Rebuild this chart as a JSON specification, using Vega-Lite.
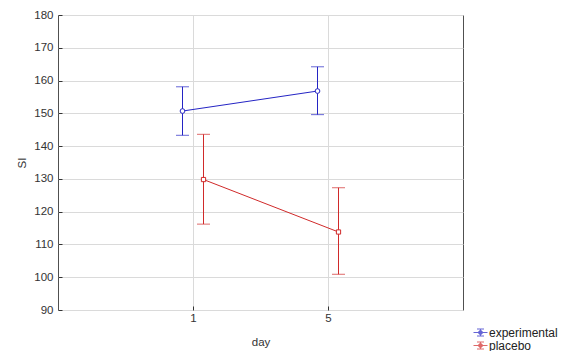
{
  "$schema": "https://vega.github.io/schema/vega-lite/v6.json",
  "width": 405,
  "height": 295,
  "autosize": "none",
  "padding": {"left": 58, "top": 15, "right": 101, "bottom": 41},
  "background": "white",
  "data": {
    "values": [
      {"group": "experimental", "day": "1", "mean": 150.7, "lower": 143.3, "upper": 158.1},
      {"group": "experimental", "day": "5", "mean": 156.8, "lower": 149.6, "upper": 164.2},
      {"group": "placebo", "day": "1", "mean": 129.8, "lower": 116.2, "upper": 143.6},
      {"group": "placebo", "day": "5", "mean": 113.8, "lower": 100.9, "upper": 127.3}
    ]
  },
  "config": {
    "font": "Liberation Sans",
    "view": {"stroke": "#505050", "strokeWidth": 1},
    "axis": {
      "labelFont": "Liberation Sans",
      "titleFont": "Liberation Sans",
      "labelFontSize": 11.5,
      "titleFontSize": 11.5,
      "titleFontWeight": "normal",
      "labelColor": "#333333",
      "titleColor": "#333333",
      "gridColor": "#dadada",
      "gridWidth": 1,
      "domain": false,
      "tickColor": "#333333",
      "labelOverlap": false
    },
    "axisY": {"tickCount": 10}
  },
  "encoding": {
    "x": {
      "field": "day",
      "type": "ordinal",
      "scale": {"type": "point", "padding": 1},
      "axis": {"title": "day", "labelAngle": 0, "tickSize": -4, "labelPadding": 6, "titlePadding": 13, "grid": true}
    },
    "xOffset": {"field": "group", "scale": {"type": "point", "padding": 0, "range": [-10.5, 10.5]}},
    "color": {
      "field": "group",
      "type": "nominal",
      "scale": {"domain": ["experimental", "placebo"], "range": ["#2424c4", "#d02a2a"]},
      "legend": {
        "title": null,
        "orient": "none",
        "legendX": 415,
        "legendY": 312,
        "padding": 0,
        "clipHeight": 11,
        "rowPadding": 0,
        "symbolSize": 196,
        "symbolStrokeWidth": 1,
        "symbolFillColor": "white",
        "symbolType": "M-1,0H1M0,-0.5V0.5M-0.5,-0.5H0.5M-0.5,0.5H0.5M-0.28,0A0.28,0.28 0 1,0 0.28,0A0.28,0.28 0 1,0 -0.28,0",
        "labelFont": "Liberation Sans",
        "labelFontSize": 12,
        "labelColor": "#222222",
        "labelOffset": 1
      }
    }
  },
  "layer": [
    {
      "mark": {"type": "rule", "strokeWidth": 1},
      "encoding": {
        "y": {
          "field": "lower",
          "type": "quantitative",
          "scale": {"domain": [90, 180], "nice": false, "zero": false},
          "axis": {"title": "SI", "tickSize": -4, "labelPadding": 9, "titlePadding": 6, "grid": true}
        },
        "y2": {"field": "upper"}
      }
    },
    {
      "mark": {"type": "tick", "thickness": 1, "size": 13, "orient": "horizontal"},
      "encoding": {"y": {"field": "lower", "type": "quantitative"}}
    },
    {
      "mark": {"type": "tick", "thickness": 1, "size": 13, "orient": "horizontal"},
      "encoding": {"y": {"field": "upper", "type": "quantitative"}}
    },
    {
      "mark": {"type": "line", "strokeWidth": 1},
      "encoding": {"y": {"field": "mean", "type": "quantitative"}}
    },
    {
      "mark": {"type": "point", "filled": false, "fill": "white", "strokeWidth": 1, "opacity": 1},
      "encoding": {
        "y": {"field": "mean", "type": "quantitative"},
        "shape": {"condition": {"test": "datum.group === 'placebo'", "value": "square"}, "value": "circle"},
        "size": {"condition": {"test": "datum.group === 'placebo'", "value": 18}, "value": 22}
      }
    }
  ]
}
